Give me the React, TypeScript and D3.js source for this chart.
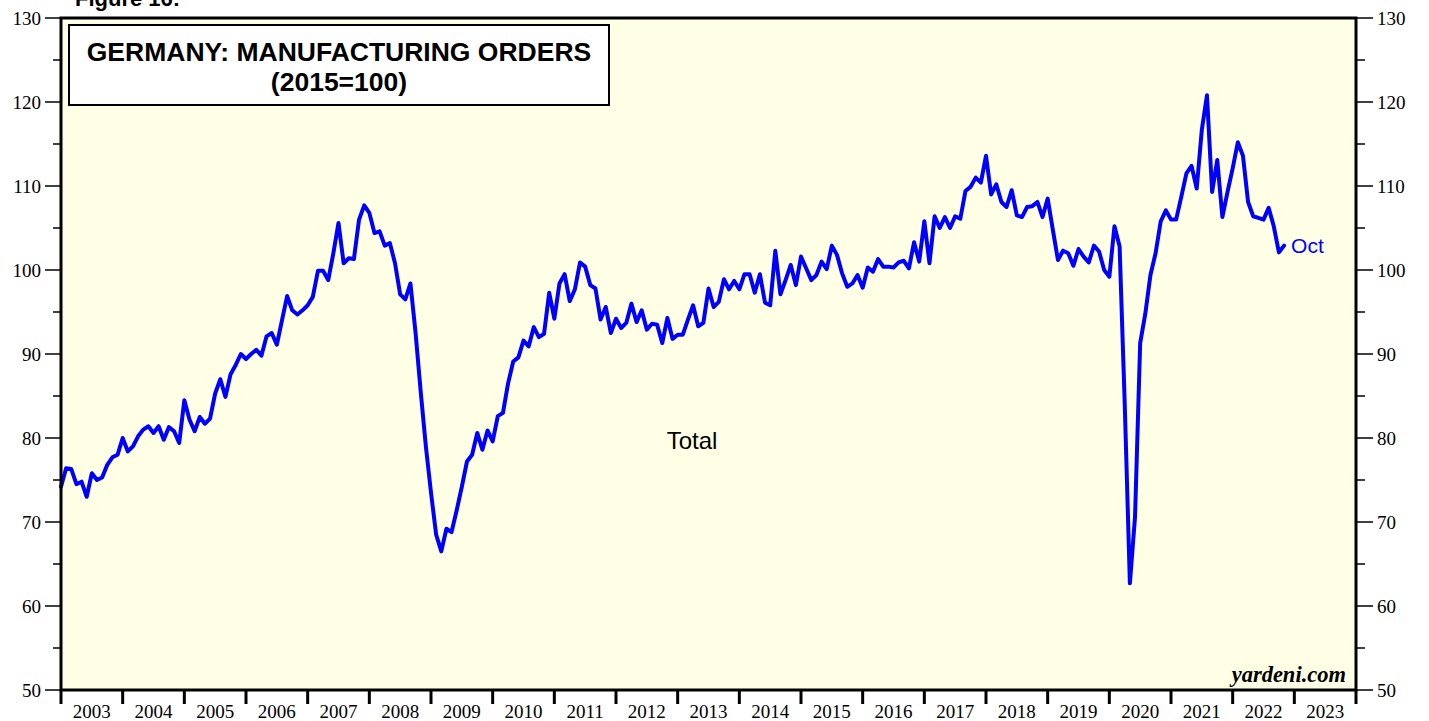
import React from "react";
import * as d3 from "d3";

// Monthly index values, Dec 2002 .. Oct 2022 (2015=100)
const startYear = 2002;
const startMonth = 12;
const values: number[] = [
  74.2, 76.4, 76.3, 74.5, 74.8, 73.0, 75.8, 75.0, 75.3, 76.8, 77.7, 78.0, 80.0,
  78.4, 79.0, 80.2, 81.0, 81.4, 80.6, 81.4, 79.8, 81.3, 80.8, 79.4, 84.5,
  82.2, 80.8, 82.5, 81.7, 82.3, 85.3, 87.0, 84.9, 87.6, 88.7, 90.0,
  89.4, 90.0, 90.5, 89.8, 92.1, 92.5, 91.1, 94.0, 96.9, 95.2, 94.7, 95.2,
  95.8, 96.8, 99.9, 99.9, 98.8, 102.0, 105.6, 100.8, 101.4, 101.3, 106.0, 107.7,
  106.8, 104.4, 104.6, 102.9, 103.2, 100.8, 97.1, 96.5, 98.4, 92.5, 85.5, 79.0, 73.5,
  68.5, 66.5, 69.2, 68.8, 71.4, 74.2, 77.2, 78.0, 80.6, 78.6, 80.9, 79.6,
  82.6, 83.0, 86.5, 89.1, 89.6, 91.6, 90.9, 93.2, 92.0, 92.4, 97.3, 94.2,
  98.4, 99.5, 96.3, 97.7, 100.9, 100.4, 98.2, 97.8, 94.1, 95.6, 92.5, 94.2,
  93.1, 93.7, 96.0, 93.8, 95.2, 92.9, 93.6, 93.5, 91.3, 94.3, 91.8, 92.3,
  92.3, 94.1, 95.8, 93.3, 93.7, 97.8, 95.6, 96.2, 98.9, 97.7, 98.7, 97.7,
  99.5, 99.5, 97.3, 99.5, 96.1, 95.8, 102.3, 97.1, 98.8, 100.6, 98.2, 101.6,
  100.2, 98.8, 99.4, 101.0, 100.1, 102.9, 101.8, 99.6, 98.0, 98.4, 99.4, 97.9,
  100.3, 99.8, 101.3, 100.4, 100.4, 100.3, 100.9, 101.1, 100.2, 103.3, 101.0, 105.8,
  100.8, 106.4, 105.0, 106.3, 105.0, 106.4, 106.1, 109.4, 109.9, 111.0, 110.4, 113.6,
  109.0, 110.2, 108.1, 107.5, 109.5, 106.5, 106.3, 107.5, 107.6, 108.1, 106.3, 108.5,
  104.8, 101.2, 102.3, 102.0, 100.5, 102.5, 101.6, 100.9, 102.9, 102.2, 100.0, 99.2,
  105.2, 102.8, 84.0, 62.7, 70.6, 91.3, 94.8, 99.4, 102.0, 105.8, 107.1, 106.0,
  106.0, 108.7, 111.5, 112.4, 109.7, 116.7, 120.8, 109.3, 113.1, 106.3, 109.3, 112.1,
  115.2, 113.6, 108.1, 106.4, 106.2, 106.0, 107.4, 105.2, 102.1, 102.9,
];

const years: number[] = d3.range(2003, 2024);
const yTicks: number[] = [50, 60, 70, 80, 90, 100, 110, 120, 130];
const yMinorTicks: number[] = [55, 65, 75, 85, 95, 105, 115, 125];

const titleLine1 = "GERMANY: MANUFACTURING ORDERS";
const titleLine2 = "(2015=100)";
const seriesLabel = "Total";
const lastLabel = "Oct";
const figureLabel = "Figure 16:";
const sourceLabel = "yardeni.com";

export default function App() {
  const W = 1429;
  const H = 721;
  const left = 61;
  const right = 1356;
  const top = 18;
  const bottom = 690;

  const x = d3.scaleLinear().domain([2003, 2024]).range([left, right]);
  const y = d3.scaleLinear().domain([50, 130]).range([bottom, top]);

  // point placed at end of month
  const pts = values.map((v, i) => {
    const m = startMonth + i;
    const t = startYear + m / 12;
    return [x(t), y(v)] as [number, number];
  });
  const line = d3.line<[number, number]>().x((d) => d[0]).y((d) => d[1]);
  const last = pts[pts.length - 1];

  const serif = "'Liberation Serif', 'Times New Roman', serif";
  const sans = "'Liberation Sans', Arial, sans-serif";

  return (
    <svg width={W} height={H} style={{ position: "absolute", left: 0, top: 0 }}>
      <rect x={0} y={0} width={W} height={H} fill="#ffffff" />
      <text x={75} y={6} fontFamily={sans} fontWeight="bold" fontSize={22} fill="#000">
        {figureLabel}
      </text>
      <rect x={left} y={top} width={right - left} height={bottom - top} fill="#ffffe6" />

      {yTicks.map((t) => (
        <g key={"l" + t}>
          <line x1={45} x2={left} y1={y(t)} y2={y(t)} stroke="#000" strokeWidth={1.5} />
          <text x={41} y={y(t) + 6.5} textAnchor="end" fontFamily={serif} fontSize={19}>
            {t}
          </text>
          <line x1={right} x2={1373} y1={y(t)} y2={y(t)} stroke="#000" strokeWidth={1.5} />
          <text x={1377} y={y(t) + 6.5} textAnchor="start" fontFamily={serif} fontSize={19}>
            {t}
          </text>
        </g>
      ))}
      {yMinorTicks.map((t) => (
        <g key={"m" + t}>
          <line x1={53} x2={left} y1={y(t)} y2={y(t)} stroke="#000" strokeWidth={1.5} />
          <line x1={right} x2={1365} y1={y(t)} y2={y(t)} stroke="#000" strokeWidth={1.5} />
        </g>
      ))}

      {years.map((yr) => (
        <text
          key={"y" + yr}
          x={x(yr + 0.5)}
          y={718}
          textAnchor="middle"
          fontFamily={serif}
          fontSize={19}
        >
          {yr}
        </text>
      ))}
      {[...years, 2024].map((yr) => (
        <line
          key={"t" + yr}
          x1={x(yr)}
          x2={x(yr)}
          y1={bottom}
          y2={704}
          stroke="#000"
          strokeWidth={3}
        />
      ))}

      <path
        d={line(pts) || ""}
        fill="none"
        stroke="#0000ff"
        strokeWidth={4}
        strokeLinejoin="round"
        strokeLinecap="round"
      />

      <rect
        x={left}
        y={top}
        width={right - left}
        height={bottom - top}
        fill="none"
        stroke="#000"
        strokeWidth={3}
      />

      <rect x={69} y={25} width={540} height={80} fill="#ffffff" stroke="#000" strokeWidth={2} />
      <text x={339} y={61} textAnchor="middle" fontFamily={sans} fontWeight="bold" fontSize={26.5}>
        {titleLine1}
      </text>
      <text x={339} y={91} textAnchor="middle" fontFamily={sans} fontWeight="bold" fontSize={26.5}>
        {titleLine2}
      </text>

      <text x={692} y={449} textAnchor="middle" fontFamily={sans} fontSize={24}>
        {seriesLabel}
      </text>
      <text x={last[0] + 7} y={last[1] + 7.5} fontFamily={sans} fontSize={21} fill="#0000ff">
        {lastLabel}
      </text>
      <text
        x={1346}
        y={682}
        textAnchor="end"
        fontFamily={serif}
        fontWeight="bold"
        fontStyle="italic"
        fontSize={22.5}
      >
        {sourceLabel}
      </text>
    </svg>
  );
}
